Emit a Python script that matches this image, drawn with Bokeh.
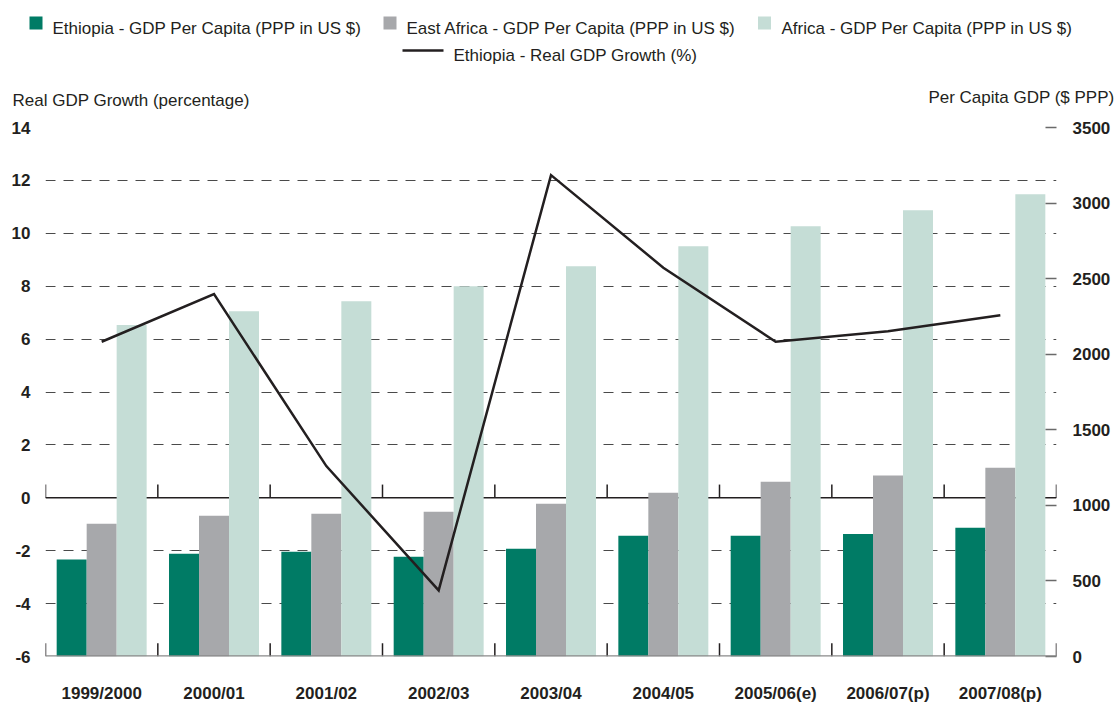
from bokeh.plotting import figure
from bokeh.layouts import column
from bokeh.models import (Range1d, FactorRange, LinearAxis, FixedTicker, Span,
                          ColumnDataSource)
from bokeh.core.properties import value
from bokeh.transform import dodge
from bokeh.embed import file_html
from bokeh.resources import INLINE

# ---------------- data ----------------
categories = ["1999/2000", "2000/01", "2001/02", "2002/03", "2003/04",
              "2004/05", "2005/06(e)", "2006/07(p)", "2007/08(p)"]
ethiopia_gdp_pc = [641, 680, 693, 660, 713, 799, 799, 810, 852]
east_africa_gdp_pc = [878, 931, 944, 958, 1010, 1083, 1156, 1197, 1248]
africa_gdp_pc = [2193, 2285, 2351, 2450, 2582, 2714, 2846, 2952, 3058]
ethiopia_growth = [5.9, 7.7, 1.2, -3.5, 12.2, 8.7, 5.9, 6.3, 6.9]

left_ticks = [-6, -4, -2, 0, 2, 4, 6, 8, 10, 12, 14]
right_ticks = [0, 500, 1000, 1500, 2000, 2500, 3000, 3500]

series_labels = ["Ethiopia - GDP Per Capita (PPP in US $)",
                 "East Africa - GDP Per Capita (PPP in US $)",
                 "Africa - GDP Per Capita (PPP in US $)",
                 "Ethiopia - Real GDP Growth (%)"]
left_title = "Real GDP Growth (percentage)"
right_title = "Per Capita GDP ($ PPP)"

# ---------------- style ----------------
FONT = "Liberation Sans"
TXT = "#231F20"
TEAL = "#007B65"
GREY = "#A7A8AB"
LIGHT = "#C5DDD6"
BAR_W = 0.267
W = 1116
HDR_H = 110

# ---------------- header (legend + axis titles) ----------------
hdr = figure(width=W, height=HDR_H, x_range=Range1d(0, W), y_range=Range1d(HDR_H, 0),
             output_backend="svg", toolbar_location=None,
             min_border=0, min_border_left=0, min_border_right=0,
             min_border_top=0, min_border_bottom=0,
             x_axis_type=None, y_axis_type=None)
if "frame_align" in hdr.properties():
    hdr.frame_align = False
hdr.outline_line_color = None
hdr.background_fill_color = "white"
hdr.border_fill_color = "white"

# legend swatches
hdr.scatter(x=[35.5, 389.5, 764], y=[22.5, 22.5, 22.5], marker="square", size=13,
            fill_color=[TEAL, GREY, LIGHT], line_color=None)
hdr.segment(x0=[402], x1=[443], y0=[50], y1=[50], line_color=TXT, line_width=2.5)
hdr.text(x=[52, 406, 781, 453], y=[28, 28, 28, 55], text=series_labels,
         text_font=value(FONT), text_font_size="17px", text_color=TXT,
         text_align="left", text_baseline="alphabetic")
hdr.text(x=[12], y=[100], text=[left_title], text_font=value(FONT),
         text_font_size="17px", text_color=TXT, text_align="left",
         text_baseline="alphabetic")
hdr.text(x=[1114], y=[97], text=[right_title], text_font=value(FONT),
         text_font_size="17px", text_color=TXT, text_align="right",
         text_baseline="alphabetic")

# ---------------- main chart ----------------
src = ColumnDataSource(dict(cat=categories, eth=ethiopia_gdp_pc, ea=east_africa_gdp_pc,
                            af=africa_gdp_pc, growth=ethiopia_growth))

p = figure(width=W, height=705 - HDR_H,
           x_range=FactorRange(*categories, range_padding=0),
           y_range=Range1d(left_ticks[0], left_ticks[-1]),
           output_backend="svg", toolbar_location=None,
           min_border_left=45, min_border_right=60,
           min_border_top=17, min_border_bottom=48)
if "frame_align" in p.properties():
    p.frame_align = False
p.outline_line_color = None
p.background_fill_color = "white"
p.border_fill_color = "white"

p.extra_y_ranges = {"gdp": Range1d(right_ticks[0], right_ticks[-1])}

# left axis
lax = p.left[0]
lax.ticker = FixedTicker(ticks=left_ticks)
lax.major_label_overrides = {t: str(t) for t in left_ticks}
lax.axis_line_color = None
lax.major_tick_line_color = None
lax.major_tick_out = 0
lax.major_tick_in = 0
lax.minor_tick_line_color = None
lax.major_label_text_font = FONT
lax.major_label_text_font_size = "17px"
lax.major_label_text_font_style = "bold"
lax.major_label_text_color = TXT
lax.major_label_standoff = 15

# right axis
rax = LinearAxis(y_range_name="gdp", ticker=FixedTicker(ticks=right_ticks))
rax.axis_line_color = None
rax.major_tick_in = 11
rax.major_tick_out = 0
rax.major_tick_line_color = "#6a6a6a"
rax.major_tick_line_width = 1.5
rax.minor_tick_line_color = None
rax.major_label_text_font = FONT
rax.major_label_text_font_size = "17px"
rax.major_label_text_font_style = "bold"
rax.major_label_text_color = TXT
rax.major_label_standoff = 16
p.add_layout(rax, "right")

# bottom axis
bax = p.below[0]
bax.axis_line_color = None
bax.major_tick_line_color = None
bax.major_tick_out = 0
bax.major_tick_in = 0
bax.minor_tick_line_color = None
bax.major_label_text_font = FONT
bax.major_label_text_font_size = "17px"
bax.major_label_text_font_style = "bold"
bax.major_label_text_color = TXT
bax.major_label_standoff = 27

# grid
p.xgrid.grid_line_color = None
p.ygrid.ticker = FixedTicker(ticks=left_ticks)
p.ygrid.grid_line_color = "#4a4a4a"
p.ygrid.grid_line_width = 1.2
p.ygrid.grid_line_dash = "10 8"

# zero line (under bars)
p.add_layout(Span(location=0, dimension="width", line_color=TXT,
                  line_width=1.5, level="underlay"))

# bars
p.vbar(x=dodge("cat", -BAR_W, range=p.x_range), top="eth", bottom=0,
       width=BAR_W, source=src, y_range_name="gdp",
       fill_color=TEAL, line_color=None)
p.vbar(x=dodge("cat", 0, range=p.x_range), top="ea", bottom=0,
       width=BAR_W, source=src, y_range_name="gdp",
       fill_color=GREY, line_color=None)
p.vbar(x=dodge("cat", BAR_W, range=p.x_range), top="af", bottom=0,
       width=BAR_W, source=src, y_range_name="gdp",
       fill_color=LIGHT, line_color=None)

# category separator ticks
bounds = list(range(len(categories) + 1))
p.segment(x0=bounds, x1=bounds, y0=left_ticks[0], y1=left_ticks[0] + 0.5,
          line_color=TXT, line_width=1.5)
p.segment(x0=bounds, x1=bounds, y0=0, y1=0.5, line_color=TXT, line_width=1.5)

# bottom line
p.add_layout(Span(location=left_ticks[0], dimension="width",
                  line_color="#8a8a8a", line_width=2.5))

# growth line
p.line(x="cat", y="growth", source=src, line_color=TXT,
       line_width=2.5, line_join="miter")

layout = column(hdr, p, spacing=0)
open("out.html", "w").write(file_html(layout, INLINE))
